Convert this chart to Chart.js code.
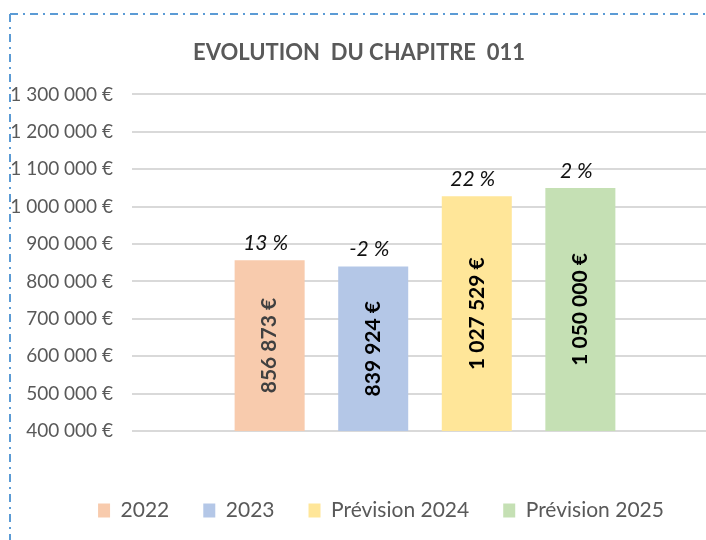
<!DOCTYPE html>
<html>
<head>
<meta charset="utf-8">
<script src="https://cdn.jsdelivr.net/npm/chart.js@4"></script>
<style>
  html, body { margin: 0; padding: 0; overflow: hidden; background: #fff; }
  #wrap { position: relative; width: 706px; height: 540px; overflow: hidden; }
  #myChart { position: absolute; left: 0; top: 0; }
  #frame { position: absolute; left: 0; top: 0; pointer-events: none; }
</style>
</head>
<body>
<div id="wrap">
  <canvas id="myChart" width="740" height="540"></canvas>
  <svg id="frame" width="706" height="540">
    <line x1="10" y1="14" x2="706" y2="14" stroke="#5b9bd5" stroke-width="2" stroke-dasharray="8 5 2 5"/>
    <line x1="10" y1="14" x2="10" y2="540" stroke="#5b9bd5" stroke-width="2" stroke-dasharray="8 5 2 5"/>
  </svg>
</div>
<script>
// données du graphique
const series = ['2022', '2023', 'Prévision 2024', 'Prévision 2025'];
const montants = [856873, 839924, 1027529, 1050000];
const evolutions = ['13 %', '-2 %', '22 %', '2 %'];
const couleurs = ['#f8cbad', '#b4c7e7', '#ffe699', '#c5e0b4'];
const yMin = 400000, yMax = 1300000, yPas = 100000;

const police = 'Lato, "Noto Sans", sans-serif';

function euros(v) {
  return String(v).replace(/\B(?=(\d{3})+(?!\d))/g, ' ') + ' €';
}

// étiquettes : montant vertical dans la barre, évolution au-dessus
const etiquettes = {
  id: 'etiquettes',
  afterLayout(chart) {
    // légende un peu décalée vers la droite comme dans Excel
    chart.legend.left += 22;
    chart.legend.right += 22;
  },
  afterDatasetsDraw(chart) {
    const ctx = chart.ctx;
    const bas = chart.scales.y.getPixelForValue(yMin);
    chart.data.datasets.forEach((ds, i) => {
      const bar = chart.getDatasetMeta(i).data[0];
      if (!bar) return;
      ctx.save();
      ctx.textAlign = 'center';
      ctx.textBaseline = 'middle';
      // pourcentage
      ctx.font = 'italic 21px ' + police;
      ctx.fillStyle = '#111';
      ctx.fillText(evolutions[i], bar.x - 4, bar.y - 17);
      // montant
      ctx.translate(bar.x, (bar.y + bas) / 2);
      ctx.rotate(-Math.PI / 2);
      ctx.font = 'bold 21px ' + police;
      ctx.fillStyle = i === 0 ? '#404040' : '#000';
      ctx.fillText(euros(ds.data[0]), 0, 0);
      ctx.restore();
    });
  }
};

const ctx = document.getElementById('myChart').getContext('2d');

const chart = new Chart(ctx, {
  type: 'bar',
  data: {
    labels: [''],
    datasets: series.map((s, i) => ({
      label: s,
      data: [montants[i]],
      backgroundColor: couleurs[i],
      borderWidth: 0,
      barPercentage: 0.676,
      categoryPercentage: 0.707
    }))
  },
  options: {
    responsive: false,
    animation: false,
    layout: { padding: { left: 0, right: 22, top: 0, bottom: 9 } },
    plugins: {
      title: {
        display: true,
        text: 'EVOLUTION  DU CHAPITRE  011',
        color: '#595959',
        font: { family: police, size: 22, weight: 'bold' },
        padding: { top: 40, bottom: 28 }
      },
      legend: {
        position: 'bottom',
        labels: {
          color: '#595959',
          font: { family: police, size: 21 },
          boxWidth: 12,
          boxHeight: 14,
          padding: 34
        }
      },
      tooltip: { enabled: false }
    },
    scales: {
      x: {
        grid: { display: false },
        border: { display: false },
        ticks: { display: false },
        afterFit: s => { s.height = 35; }
      },
      y: {
        min: yMin,
        max: yMax,
        afterFit: s => { s.width = 132; },
        grid: { color: '#d9d9d9', lineWidth: 2, drawTicks: false },
        border: { display: false },
        ticks: {
          stepSize: yPas,
          padding: 19,
          color: '#595959',
          font: { family: police, size: 19 },
          callback: v => euros(v)
        }
      }
    }
  },
  plugins: [etiquettes]
});
</script>
</body>
</html>
